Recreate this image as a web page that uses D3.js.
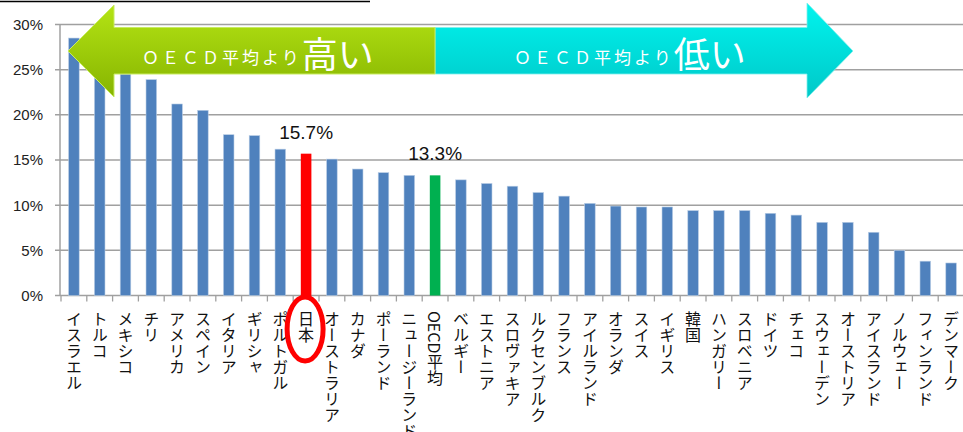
<!DOCTYPE html>
<html>
<head>
<meta charset="utf-8">
<script src="https://cdn.jsdelivr.net/npm/d3@7"></script>
<style>
  body { margin: 0; background: #fff; }
  svg { display: block; }
</style>
</head>
<body>
<svg id="chart" width="963" height="432"></svg>
<script>
// countries, sorted high -> low
const countries = [
  "イスラエル", "トルコ", "メキシコ", "チリ", "アメリカ", "スペイン", "イタリア",
  "ギリシャ", "ポルトガル", "日本", "オーストラリア", "カナダ", "ポーランド",
  "ニュージーランド", "OECD平均", "ベルギー", "エストニア", "スロヴァキア",
  "ルクセンブルク", "フランス", "アイルランド", "オランダ", "スイス", "イギリス",
  "韓国", "ハンガリー", "スロベニア", "ドイツ", "チェコ", "スウェーデン",
  "オーストリア", "アイスランド", "ノルウェー", "フィンランド", "デンマーク"
];
const rates = [
  28.5, 27.5, 24.5, 23.9, 21.2, 20.5, 17.8,
  17.7, 16.2, 15.7, 15.1, 14.0, 13.6,
  13.3, 13.3, 12.8, 12.4, 12.1,
  11.4, 11.0, 10.2, 9.9, 9.8, 9.8,
  9.4, 9.4, 9.4, 9.1, 8.9, 8.1,
  8.1, 7.0, 5.0, 3.8, 3.6
];
const yTicks = [0, 5, 10, 15, 20, 25, 30];
const labelled = ["日本", "OECD平均"];

const data = countries.map((c, i) => ({ name: c, value: rates[i] }));

const svg = d3.select("#chart");

const x = d3.scaleBand()
  .domain(countries)
  .range([61, 964])
  .paddingInner(0.59)
  .paddingOuter(0.295);

const y = d3.scaleLinear().domain([0, 30]).range([295.5, 24.5]);

const step = x.step();

function barColor(d) {
  if (d.name == "日本") return "#ff0000";
  if (d.name == "OECD平均") return "#00b050";
  return "#4f81bd";
}

// title underline (title itself is cut off at top)
svg.append("line")
  .attr("x1", 0).attr("x2", 370)
  .attr("y1", 1.5).attr("y2", 1.5)
  .attr("stroke", "#000").attr("stroke-width", 1.5);

// gridlines
svg.append("g")
  .selectAll("line")
  .data(yTicks)
  .enter()
  .append("line")
  .attr("x1", 55).attr("x2", 963)
  .attr("y1", (d) => y(d)).attr("y2", (d) => y(d))
  .attr("stroke", "#a0a0a0")
  .attr("stroke-width", 1.5);

// y axis line
svg.append("line")
  .attr("x1", 60).attr("x2", 60)
  .attr("y1", y(30)).attr("y2", y(0))
  .attr("stroke", "#a0a0a0").attr("stroke-width", 1.5);

// y tick labels
svg.append("g")
  .selectAll("text")
  .data(yTicks)
  .enter()
  .append("text")
  .attr("x", 43)
  .attr("y", (d) => y(d))
  .attr("dy", "0.36em")
  .attr("text-anchor", "end")
  .style("font-family", "'Liberation Sans', Arial, sans-serif")
  .style("font-size", "15px")
  .style("fill", "#222")
  .text((d) => d + "%");

// x ticks at category boundaries
svg.append("g")
  .selectAll("line")
  .data(countries)
  .enter()
  .append("line")
  .attr("x1", (d) => x(d) + x.bandwidth() / 2 - step / 2)
  .attr("x2", (d) => x(d) + x.bandwidth() / 2 - step / 2)
  .attr("y1", y(0)).attr("y2", y(0) + 6)
  .attr("stroke", "#a0a0a0").attr("stroke-width", 1.3);

// bars
svg.append("g")
  .selectAll("rect")
  .data(data)
  .enter()
  .append("rect")
  .attr("x", (d) => x(d.name))
  .attr("y", (d) => y(d.value))
  .attr("width", x.bandwidth())
  .attr("height", (d) => y(0) - y(d.value) + (d.name == "日本" ? 3 : 0))
  .style("fill", barColor)
  .style("stroke", (d) => (barColor(d) == "#4f81bd" ? "#b9cde5" : "none"))
  .style("stroke-width", 0.6);

// x labels, vertical
svg.append("g")
  .selectAll("text")
  .data(countries)
  .enter()
  .append("text")
  .attr("x", (d) => x(d) + x.bandwidth() / 2)
  .attr("y", 311)
  .style("writing-mode", "vertical-rl")
  .style("font-family", "'Noto Sans CJK JP', sans-serif")
  .style("font-size", "16px")
  .style("fill", "#111")
  .text((d) => d);

// value labels for Japan and OECD average
svg.append("g")
  .selectAll("text")
  .data(data.filter((d) => labelled.includes(d.name)))
  .enter()
  .append("text")
  .attr("x", (d) => x(d.name) + x.bandwidth() / 2)
  .attr("y", (d) => y(d.value) - 15)
  .attr("text-anchor", "middle")
  .style("font-family", "'Liberation Sans', Arial, sans-serif")
  .style("font-size", "19px")
  .style("fill", "#111")
  .text((d) => d.value.toFixed(1) + "%");

// red ellipse around 日本
svg.append("ellipse")
  .attr("cx", x("日本") + x.bandwidth() / 2 - 1)
  .attr("cy", 329)
  .attr("rx", 18)
  .attr("ry", 32)
  .attr("fill", "none")
  .attr("stroke", "#ff0000")
  .attr("stroke-width", 5);

// arrows
const defs = svg.append("defs");
const gGreen = defs.append("linearGradient").attr("id", "gGreen")
  .attr("x1", 0).attr("y1", 0).attr("x2", 0).attr("y2", 1);
gGreen.append("stop").attr("offset", "0%").attr("stop-color", "#b4e414");
gGreen.append("stop").attr("offset", "100%").attr("stop-color", "#86b400");
const gCyan = defs.append("linearGradient").attr("id", "gCyan")
  .attr("x1", 0).attr("y1", 0).attr("x2", 0).attr("y2", 1);
gCyan.append("stop").attr("offset", "0%").attr("stop-color", "#00f4ee");
gCyan.append("stop").attr("offset", "100%").attr("stop-color", "#00c8c8");

svg.append("polygon")
  .attr("points", "807,27.5 807,3 853,51 807,98 807,74 435,74 435,27.5")
  .attr("fill", "url(#gCyan)")
  .attr("stroke", "#7ff0ec").attr("stroke-width", 0.8);

svg.append("polygon")
  .attr("points", "68,51 114,5 114,27.5 435,27.5 435,74 114,74 114,97")
  .attr("fill", "url(#gGreen)")
  .attr("stroke", "#c8ec60").attr("stroke-width", 1);

function arrowText(xPos, big) {
  const t = svg.append("text")
    .attr("x", xPos)
    .attr("y", 64)
    .style("font-family", "'Noto Sans CJK JP', sans-serif")
    .style("fill", "#fff");
  t.append("tspan")
    .style("font-size", "17px")
    .style("letter-spacing", "3px")
    .text("ＯＥＣＤ平均より");
  t.append("tspan")
    .attr("dy", 4)
    .style("font-size", "36px")
    .text(big);
}
arrowText(142, "高い");
arrowText(514, "低い");
</script>
</body>
</html>
